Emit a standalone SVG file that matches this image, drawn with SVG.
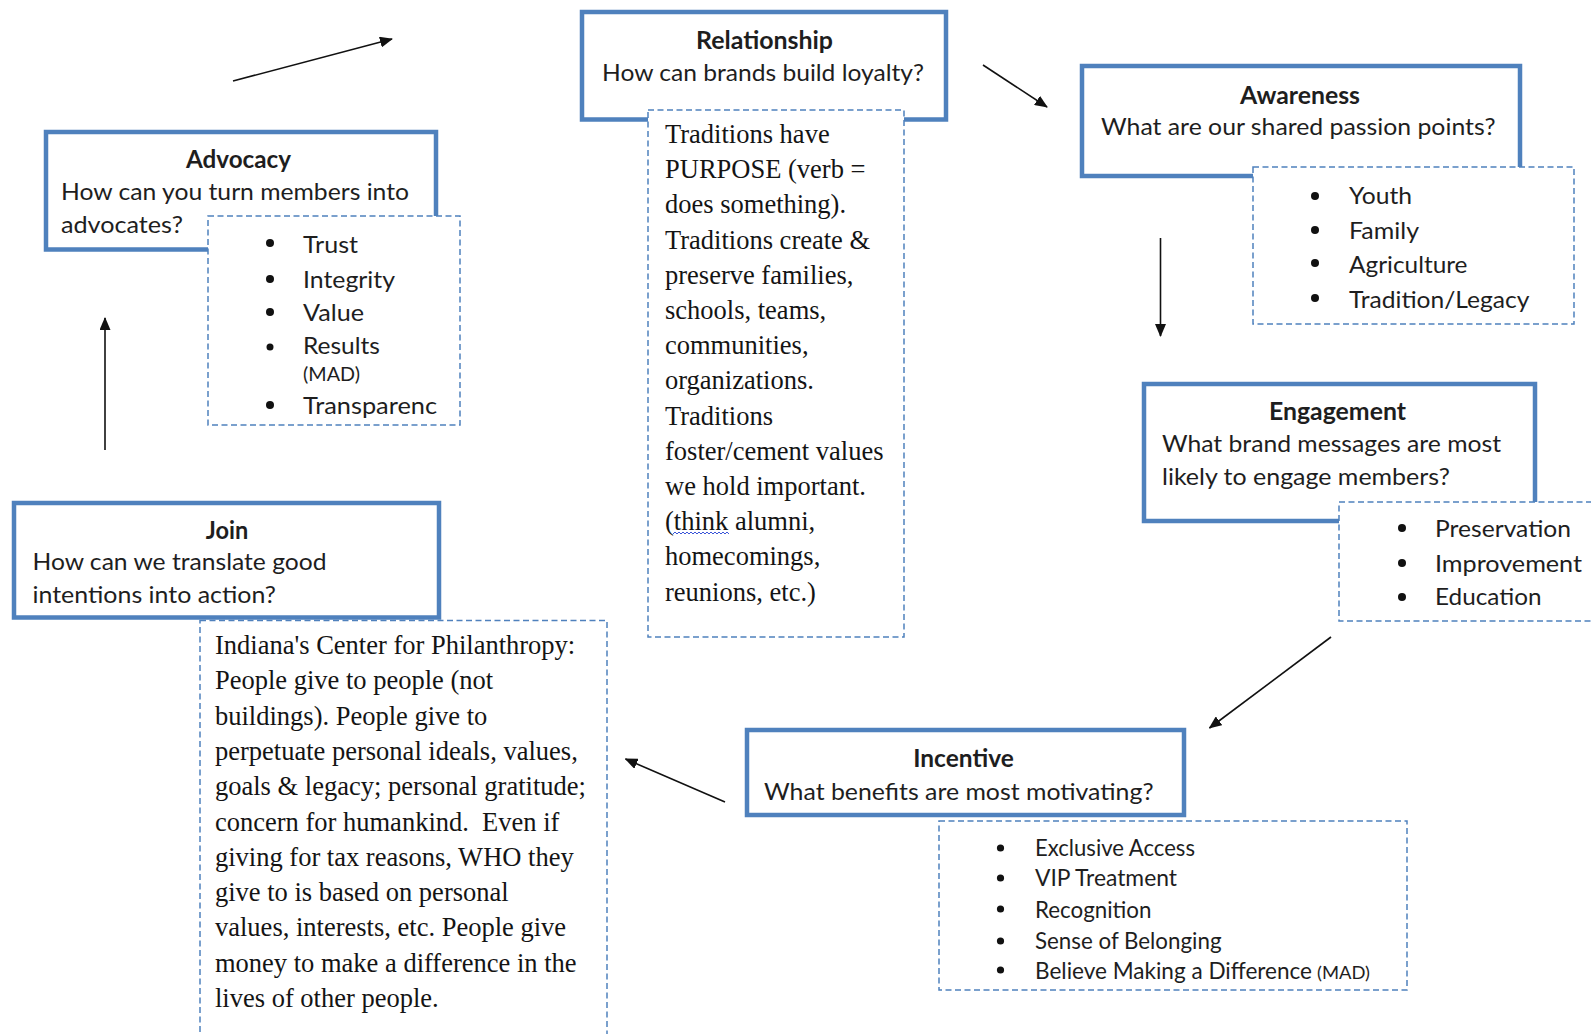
<svg xmlns="http://www.w3.org/2000/svg" width="1591" height="1034" viewBox="0 0 1591 1034">
<style>
.box{fill:#fff;stroke:#4F81BD;stroke-width:4.5}
.dash{fill:#fff;stroke:#4F81BD;stroke-width:1.5;stroke-dasharray:6 3.5}
.t{font-family:Lato,"Liberation Sans",sans-serif;font-size:24px;fill:#1e1e1e}
.b{font-weight:bold;text-anchor:middle}
.li{font-size:23px}
.sm{font-size:19px}
.s{font-family:"Liberation Serif","Times New Roman",serif;font-size:26.5px;fill:#141414}
.dot{fill:#111}
.conn line{stroke:#111;stroke-width:1.6;marker-end:url(#ah)}
</style>
<defs>
<marker id="ah" markerUnits="userSpaceOnUse" markerWidth="13" markerHeight="11" refX="12" refY="5.5" orient="auto">
<path d="M0,0 L13,5.5 L0,11 Z" fill="#111"/>
</marker>
</defs>
<rect width="1591" height="1034" fill="#fff"/>

<g id="connectors" class="conn">
<line x1="233" y1="81" x2="392" y2="39"/>
<line x1="983" y1="65" x2="1047" y2="107"/>
<line x1="1160.5" y1="238" x2="1160.5" y2="336"/>
<line x1="1331" y1="637" x2="1209.5" y2="728"/>
<line x1="725" y1="802" x2="625.5" y2="759"/>
<line x1="105" y1="450" x2="105" y2="318"/>
</g>

<g id="advocacy">
<rect class="box" x="46" y="132" width="390" height="117.5"/>
<text class="t b" x="238.5" y="168" textLength="105" lengthAdjust="spacingAndGlyphs">Advocacy</text>
<text class="t" x="61" y="199.5" textLength="348" lengthAdjust="spacingAndGlyphs">How can you turn members into</text>
<text class="t" x="61" y="232.5" textLength="122" lengthAdjust="spacingAndGlyphs">advocates?</text>
<rect class="dash" x="208" y="216" width="252" height="209"/>
<circle class="dot" cx="270" cy="243" r="4"/>
<circle class="dot" cx="270" cy="279" r="4"/>
<circle class="dot" cx="270" cy="312" r="4"/>
<circle class="dot" cx="270" cy="347" r="3.5"/>
<circle class="dot" cx="270" cy="405" r="4"/>
<text class="t" x="303" y="253" textLength="55" lengthAdjust="spacingAndGlyphs">Trust</text>
<text class="t" x="303" y="288" textLength="92" lengthAdjust="spacingAndGlyphs">Integrity</text>
<text class="t" x="303" y="321" textLength="61" lengthAdjust="spacingAndGlyphs">Value</text>
<text class="t" x="303" y="354" textLength="77" lengthAdjust="spacingAndGlyphs">Results</text>
<text class="t sm" x="303" y="381" textLength="57" lengthAdjust="spacingAndGlyphs">(MAD)</text>
<text class="t" x="303" y="414" textLength="134" lengthAdjust="spacingAndGlyphs">Transparenc</text>
</g>

<g id="relationship">
<rect class="box" x="582" y="12" width="364" height="107.5"/>
<text class="t b" x="764.5" y="49" textLength="137" lengthAdjust="spacingAndGlyphs">Relationship</text>
<text class="t" x="763" y="80.5" text-anchor="middle" textLength="322" lengthAdjust="spacingAndGlyphs">How can brands build loyalty?</text>
<rect class="dash" x="648" y="110" width="256" height="527"/>
<text class="s" x="665" y="143">Traditions have</text>
<text class="s" x="665" y="178.2">PURPOSE (verb =</text>
<text class="s" x="665" y="213.4">does something).</text>
<text class="s" x="665" y="248.6">Traditions create &amp;</text>
<text class="s" x="665" y="283.8">preserve families,</text>
<text class="s" x="665" y="319">schools, teams,</text>
<text class="s" x="665" y="354.2">communities,</text>
<text class="s" x="665" y="389.4">organizations.</text>
<text class="s" x="665" y="424.6">Traditions</text>
<text class="s" x="665" y="459.8">foster/cement values</text>
<text class="s" x="665" y="495">we hold important.</text>
<text class="s" x="665" y="530.2">(think alumni,</text>
<text class="s" x="665" y="565.4">homecomings,</text>
<text class="s" x="665" y="600.6">reunions, etc.)</text>
<path d="M673,534 l2,-2 l2,2 l2,-2 l2,2 l2,-2 l2,2 l2,-2 l2,2 l2,-2 l2,2 l2,-2 l2,2 l2,-2 l2,2 l2,-2 l2,2 l2,-2 l2,2 l2,-2 l2,2 l2,-2 l2,2 l2,-2 l2,2 l2,-2 l2,2 l2,-2 l2,2" fill="none" stroke="#3a55d8" stroke-width="1"/>
</g>

<g id="awareness">
<rect class="box" x="1082" y="66" width="438" height="110"/>
<text class="t b" x="1300" y="103.5" textLength="120" lengthAdjust="spacingAndGlyphs">Awareness</text>
<text class="t" x="1101" y="134.5" textLength="394.5" lengthAdjust="spacingAndGlyphs">What are our shared passion points?</text>
<rect class="dash" x="1253" y="167" width="321" height="157"/>
<circle class="dot" cx="1315" cy="196" r="4"/>
<circle class="dot" cx="1315" cy="230" r="4"/>
<circle class="dot" cx="1315" cy="263" r="4"/>
<circle class="dot" cx="1315" cy="298" r="4"/>
<text class="t" x="1349" y="204" textLength="63" lengthAdjust="spacingAndGlyphs">Youth</text>
<text class="t" x="1349" y="239" textLength="70" lengthAdjust="spacingAndGlyphs">Family</text>
<text class="t" x="1349" y="273" textLength="118.5" lengthAdjust="spacingAndGlyphs">Agriculture</text>
<text class="t" x="1349" y="308" textLength="180.5" lengthAdjust="spacingAndGlyphs">Tradition/Legacy</text>
</g>

<g id="engagement">
<rect class="box" x="1144" y="384" width="391" height="137"/>
<text class="t b" x="1337.5" y="420" textLength="137" lengthAdjust="spacingAndGlyphs">Engagement</text>
<text class="t" x="1162" y="451.5" textLength="339" lengthAdjust="spacingAndGlyphs">What brand messages are most</text>
<text class="t" x="1162" y="484.5" textLength="288" lengthAdjust="spacingAndGlyphs">likely to engage members?</text>
<rect class="dash" x="1339" y="502" width="280" height="119"/>
<circle class="dot" cx="1402" cy="528" r="4"/>
<circle class="dot" cx="1402" cy="563" r="4"/>
<circle class="dot" cx="1402" cy="597" r="4"/>
<text class="t" x="1435" y="537" textLength="136" lengthAdjust="spacingAndGlyphs">Preservation</text>
<text class="t" x="1435" y="572" textLength="147" lengthAdjust="spacingAndGlyphs">Improvement</text>
<text class="t" x="1435" y="605" textLength="106.5" lengthAdjust="spacingAndGlyphs">Education</text>
</g>

<g id="incentive">
<rect class="box" x="747" y="730" width="437" height="85"/>
<text class="t b" x="963.5" y="767" textLength="100.5" lengthAdjust="spacingAndGlyphs">Incentive</text>
<text class="t" x="764" y="799.5" textLength="389.5" lengthAdjust="spacingAndGlyphs">What benefits are most motivating?</text>
<rect class="dash" x="939" y="821" width="468" height="169"/>
<circle class="dot" cx="1000.5" cy="848" r="3.6"/>
<circle class="dot" cx="1000.5" cy="878" r="3.6"/>
<circle class="dot" cx="1000.5" cy="909" r="3.6"/>
<circle class="dot" cx="1000.5" cy="941" r="3.6"/>
<circle class="dot" cx="1000.5" cy="970" r="3.6"/>
<text class="t li" x="1035" y="856" textLength="160" lengthAdjust="spacingAndGlyphs">Exclusive Access</text>
<text class="t li" x="1035" y="886" textLength="142" lengthAdjust="spacingAndGlyphs">VIP Treatment</text>
<text class="t li" x="1035" y="918" textLength="116.5" lengthAdjust="spacingAndGlyphs">Recognition</text>
<text class="t li" x="1035" y="949" textLength="186.5" lengthAdjust="spacingAndGlyphs">Sense of Belonging</text>
<text class="t li" x="1035" y="979" textLength="277" lengthAdjust="spacingAndGlyphs">Believe Making a Difference</text>
<text class="t sm" x="1317" y="979" style="font-size:17px" textLength="53" lengthAdjust="spacingAndGlyphs">(MAD)</text>
</g>

<g id="join">
<rect class="dash" x="200" y="620.5" width="407" height="440"/>
<rect class="box" x="14" y="503" width="425" height="114.5"/>
<text class="t b" x="227" y="538.5" textLength="42.5" lengthAdjust="spacingAndGlyphs">Join</text>
<text class="t" x="32.5" y="569.5" textLength="294" lengthAdjust="spacingAndGlyphs">How can we translate good</text>
<text class="t" x="32.5" y="602.5" textLength="243.5" lengthAdjust="spacingAndGlyphs">intentions into action?</text>
<text class="s" x="215" y="654">Indiana's Center for Philanthropy:</text>
<text class="s" x="215" y="689.3">People give to people (not</text>
<text class="s" x="215" y="724.6">buildings). People give to</text>
<text class="s" x="215" y="759.9">perpetuate personal ideals, values,</text>
<text class="s" x="215" y="795.2">goals &amp; legacy; personal gratitude;</text>
<text class="s" x="215" y="830.5" xml:space="preserve">concern for humankind.  Even if</text>
<text class="s" x="215" y="865.8">giving for tax reasons, WHO they</text>
<text class="s" x="215" y="901.1">give to is based on personal</text>
<text class="s" x="215" y="936.4">values, interests, etc. People give</text>
<text class="s" x="215" y="971.7">money to make a difference in the</text>
<text class="s" x="215" y="1007">lives of other people.</text>
</g>
</svg>
